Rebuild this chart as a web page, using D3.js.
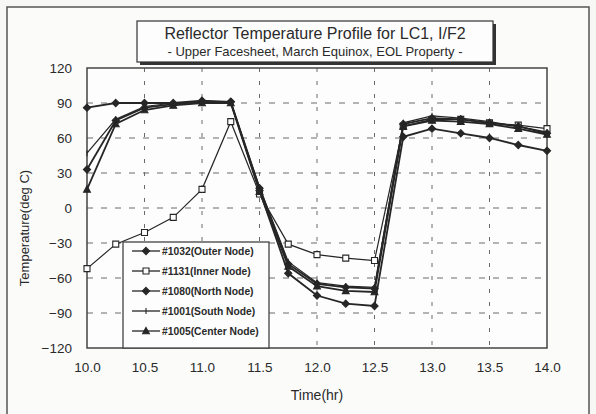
<!DOCTYPE html>
<html>
<head>
<meta charset="utf-8">
<script src="https://cdn.jsdelivr.net/npm/d3@7"></script>
<style>
  body { margin: 0; background: #f7f7f6; }
  text { font-family: "Liberation Sans", Arial, sans-serif; fill: #2a2a2a; }
</style>
</head>
<body>
<svg id="chart" width="596" height="414"></svg>
<script>
// Reflector temperature profile, one array per node
var times = [10.0, 10.25, 10.5, 10.75, 11.0, 11.25, 11.5, 11.75, 12.0, 12.25, 12.5, 12.75, 13.0, 13.25, 13.5, 13.75, 14.0];
var outerNode  = [86, 90, 90, 90, 92, 91, 15, -56, -75, -82, -84, 61, 68, 64, 60, 54, 49];
var innerNode  = [-52, -31, -21, -8, 16, 74, 12, -31, -40, -43, -45, 70, 76, 76, 73, 71, 68];
var northNode  = [33, 75, 86, 89, 91, 91, 17, -48, -65, -68, -69, 72, 77, 76, 73, 70, 64];
var southNode  = [47, 76, 87, 90, 91, 90, 18, -46, -64, -67, -68, 73, 79, 77, 74, 70, 65];
var centerNode = [16, 72, 84, 88, 90, 90, 14, -50, -67, -71, -72, 70, 75, 74, 72, 68, 63];
var seriesNames = ["#1032(Outer Node)", "#1131(Inner Node)", "#1080(North Node)", "#1001(South Node)", "#1005(Center Node)"];
var seriesMarks = ["diamond", "square", "diamond", "tick", "triangle"];
var xTicks = [10.0, 10.5, 11.0, 11.5, 12.0, 12.5, 13.0, 13.5, 14.0];
var yTicks = [-120, -90, -60, -30, 0, 30, 60, 90, 120];

var allSeries = [outerNode, innerNode, northNode, southNode, centerNode];
var ink = "#262626";
var gridInk = "#6a6a6a";

var svg = d3.select("#chart");
var plot = { left: 87, right: 547, top: 68, bottom: 348 };

var x = d3.scaleLinear().domain([10, 14]).range([plot.left, plot.right]);
var y = d3.scaleLinear().domain([-120, 120]).range([plot.bottom, plot.top]);

// outer frame of the figure
svg.append("rect")
	.attr("x", 7).attr("y", 7)
	.attr("width", 582).attr("height", 420)
	.attr("fill", "#fbfbfa")
	.attr("stroke", "#555").attr("stroke-width", 1.5);

// plot background
svg.append("rect")
	.attr("x", plot.left).attr("y", plot.top)
	.attr("width", plot.right - plot.left).attr("height", plot.bottom - plot.top)
	.attr("fill", "#fdfdfd");

// dashed grid
var grid = svg.append("g");
grid.selectAll("line.v")
	.data(xTicks.slice(1, -1))
	.enter().append("line")
	.attr("x1", function(d) { return x(d); })
	.attr("x2", function(d) { return x(d); })
	.attr("y1", plot.top).attr("y2", plot.bottom)
	.attr("stroke", gridInk).attr("stroke-width", 1)
	.attr("stroke-dasharray", "4,9");
grid.selectAll("line.h")
	.data(yTicks.slice(1, -1))
	.enter().append("line")
	.attr("y1", function(d) { return y(d); })
	.attr("y2", function(d) { return y(d); })
	.attr("x1", plot.left).attr("x2", plot.right)
	.attr("stroke", gridInk).attr("stroke-width", 1)
	.attr("stroke-dasharray", "6,8");

// axes with labels only, border drawn below
var xAxis = d3.axisBottom(x).tickValues(xTicks).tickSize(0).tickPadding(14)
	.tickFormat(d3.format(".1f"));
svg.append("g")
	.attr("transform", "translate(0," + plot.bottom + ")")
	.call(xAxis)
	.call(function(g) { g.select(".domain").remove(); })
	.selectAll("text")
	.style("font-size", "13.5px").attr("fill", ink);

var yAxis = d3.axisLeft(y).tickValues(yTicks).tickSize(0).tickPadding(15);
svg.append("g")
	.attr("transform", "translate(" + plot.left + ",0)")
	.call(yAxis)
	.call(function(g) { g.select(".domain").remove(); })
	.selectAll("text")
	.style("font-size", "13.5px").attr("fill", ink);

// plot border
svg.append("rect")
	.attr("x", plot.left).attr("y", plot.top)
	.attr("width", plot.right - plot.left).attr("height", plot.bottom - plot.top)
	.attr("fill", "none").attr("stroke", "#444").attr("stroke-width", 1.5);

// axis titles
svg.append("text")
	.attr("x", (plot.left + plot.right) / 2).attr("y", 400)
	.attr("text-anchor", "middle")
	.style("font-size", "14px")
	.text("Time(hr)");
svg.append("text")
	.attr("transform", "translate(29,228) rotate(-90)")
	.attr("text-anchor", "middle")
	.style("font-size", "13px")
	.text("Temperature(deg C)");

// marker shapes
function markerPath(kind) {
	if (kind == "diamond") return "M0,-3.6L3.6,0L0,3.6L-3.6,0Z";
	if (kind == "square") return "M-3,-3H3V3H-3Z";
	if (kind == "triangle") return "M0,-3.6L3.4,2.8H-3.4Z";
	return "M0,-3V3";
}
function markerFill(kind) {
	return kind == "square" ? "#fdfdfd" : ink;
}

var line = d3.line()
	.x(function(d) { return x(d[0]); })
	.y(function(d) { return y(d[1]); });

var lineGroup = svg.append("g");
for (var s = 0; s < allSeries.length; s++) {
	var pts = times.map(function(t, i) { return [t, allSeries[s][i]]; });
	var kind = seriesMarks[s];
	lineGroup.append("path")
		.datum(pts)
		.attr("d", line)
		.attr("fill", "none")
		.attr("stroke", ink)
		.attr("stroke-width", kind == "square" || kind == "tick" ? 1.2 : 1.8);
	lineGroup.append("g").selectAll("path")
		.data(pts)
		.enter().append("path")
		.attr("transform", function(d) { return "translate(" + x(d[0]) + "," + y(d[1]) + ")"; })
		.attr("d", markerPath(kind))
		.attr("fill", markerFill(kind))
		.attr("stroke", ink)
		.attr("stroke-width", 1.1);
}

// legend box
var legend = svg.append("g").attr("transform", "translate(123,242)");
legend.append("rect")
	.attr("width", 146).attr("height", 106)
	.attr("fill", "#fdfdfd")
	.attr("stroke", "#444").attr("stroke-width", 1.3);
for (var i = 0; i < seriesNames.length; i++) {
	var rowY = 9 + 20 * i;
	legend.append("line")
		.attr("x1", 9).attr("x2", 37)
		.attr("y1", rowY).attr("y2", rowY)
		.attr("stroke", ink).attr("stroke-width", 1.3);
	legend.append("path")
		.attr("transform", "translate(23," + rowY + ")")
		.attr("d", markerPath(seriesMarks[i]))
		.attr("fill", markerFill(seriesMarks[i]))
		.attr("stroke", ink).attr("stroke-width", 1.1);
	legend.append("text")
		.attr("x", 39).attr("y", rowY + 3.5)
		.style("font-size", "10.3px").style("font-weight", "bold")
		.text(seriesNames[i]);
}

// title box with shadow
var titleG = svg.append("g").attr("transform", "translate(137,21)");
titleG.append("rect")
	.attr("x", 3).attr("y", 3)
	.attr("width", 356).attr("height", 41)
	.attr("fill", "#333");
titleG.append("rect")
	.attr("width", 356).attr("height", 41)
	.attr("fill", "#fdfdfd")
	.attr("stroke", "#333").attr("stroke-width", 1.2);
titleG.append("text")
	.attr("x", 178).attr("y", 18)
	.attr("text-anchor", "middle")
	.style("font-size", "16px")
	.text("Reflector Temperature Profile for LC1, I/F2");
titleG.append("text")
	.attr("x", 178).attr("y", 35)
	.attr("text-anchor", "middle")
	.style("font-size", "13px")
	.text("- Upper Facesheet, March Equinox, EOL Property -");
</script>
</body>
</html>
